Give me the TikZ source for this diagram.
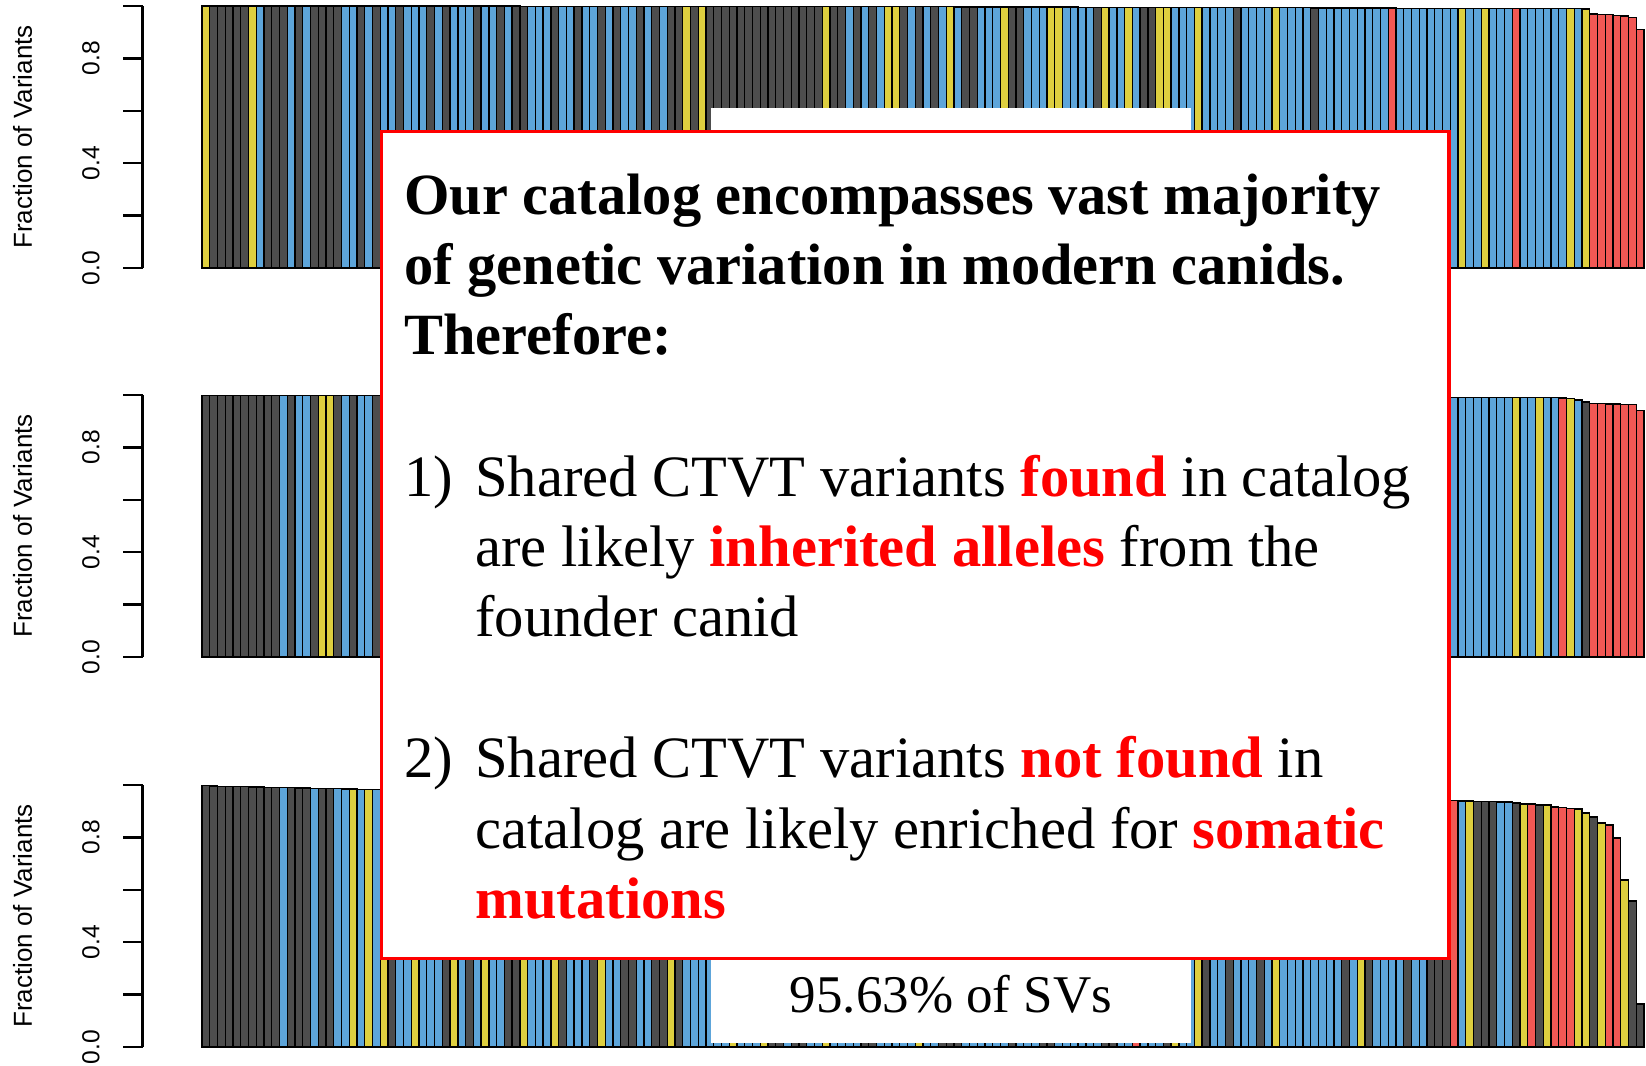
\documentclass[tikz,border=0pt]{standalone}
\usepackage{fontspec}
\setmainfont{Liberation Serif}
\newfontfamily\axisfont{Liberation Sans}

\definecolor{bark}{RGB}{77,77,77}
\definecolor{barb}{RGB}{93,165,218}
\definecolor{bary}{RGB}{222,207,63}
\definecolor{barr}{RGB}{241,88,84}
\definecolor{boxred}{RGB}{255,0,0}

\tikzset{
  barcell/.style={draw=black, line width=0.65pt},
  axisline/.style={draw=black, line width=1.2pt},
  ticklab/.style={font=\axisfont\fontsize{12.3}{14}\selectfont, rotate=90, inner sep=0pt},
  ylab/.style={font=\axisfont\fontsize{13}{15}\selectfont, rotate=90, inner sep=0pt},
  maskbox/.style={fill=white, draw=none},
  notebox/.style={fill=white, draw=boxred, line width=1.75pt},
  bodytext/.style={anchor=base west, inner sep=0pt, font=\fontsize{29.3}{35}\selectfont},
  headtext/.style={bodytext, font=\fontsize{29.2}{35}\selectfont\bfseries},
}
\newcommand\hot[1]{\textcolor{boxred}{\bfseries #1}}

% #1 zero line, #2 px per unit, #3 colour letters, #4 first tail index,
% #5 tail heights, #6 height formula in \j for the bars before the tail
\newcommand\barseries[6]{%
  \foreach \c [count=\j from 0] in {#3} {%
    \ifnum\j<#4\relax
      \pgfmathsetmacro\hh{#6}%
    \else
      \pgfmathsetmacro\hh{{#5}[\j-#4]}%
    \fi
    \filldraw[barcell, fill=bar\c] ({202+\j*7.753}, #1) rectangle ++(7.753, {-\hh*#2});
  }%
}

% #1 zero line, #2 suffix for node names
\newcommand\axisframe[2]{%
  \draw[axisline] (142.5, {#1}) -- (142.5, {#1-262});
  \foreach \v in {0,0.2,0.4,0.6,0.8,1.0}
    \draw[axisline] (123, {#1-\v*262}) -- (142.5, {#1-\v*262});
  \node[ticklab] (tk0#2) at (91, {#1}) {0.0};
  \node[ticklab] (tk4#2) at (91, {#1-0.4*262}) {0.4};
  \node[ticklab] (tk8#2) at (91, {#1-0.8*262}) {0.8};
  \node[ylab] (ylab#2) at (22.5, {#1-131}) {Fraction of Variants};
}

\begin{document}
\begin{tikzpicture}[x=0.5pt, y=-0.5pt]
\useasboundingbox (0,0) rectangle (1646,1066);
\fill[white] (0,0) rectangle (1646,1066);

% ---- panel 1 ----
\axisframe{268}{a}
\barseries{268}{262}{y,k,k,k,k,k,y,b,k,k, k,b,k,b,k,k,k,k,b,b, k,b,k,
 b,b,k,b,b,b,k,b,k,b, b,b,k,b,b,k,b,k,k,b, b,b,k,b,b,k,b,b,k,b, k,b,b,k,b,
 k,b,k,k,y,k,y,k,
 k,k,k,k,k,k,k,k,k,k,k,k,k,k,
 y,k,k,b,k,b,k,b,y,y, k,b,k,b,k,b,y,b,k,k, b,b,b,y,k,k,b,b,b,y, y,b,b,b,b,k,y,b,b,y, b,k,k,y,y,b,b,b,y,b,
 b,b,b,k,b,b,b,b,y,b, b,b,b,k,b,b,b,b,b,b,
 b,b,b,r,b,b,b,b,b,b, b,b,y,b,b,y,b,b,b,r, b,b,b,b,b,b,y,b,y,r, r,r,r,r,r,r}
 {179}{0.969,0.967,0.967,0.964,0.962,0.957,0.911}{1-0.011*(\j/178)^2}

% ---- panel 2 ----
\axisframe{657}{b}
\barseries{657}{262}{k,k,k,k,k,k,k,k,k,k, b,k,b,b,k,y,y,k,b,k, b,b,k,
 b,k,b,b,k,y,b,k,b,k, b,k,b,b,k,y,b,k,b,k, b,k,b,b,k,y,b,k,b,k, b,k,b,b,k,y,b,k,b,k,
 b,k,b,b,k,y,b,k,b,k, b,k,b,b,k,y,b,k,b,k, b,k,b,b,k,y,b,k,b,k, b,k,b,b,k,y,b,k,b,k,
 b,k,b,b,k,y,b,k,b,k, b,k,b,b,k,y,b,k,b,k, b,k,b,b,k,y,b,k,b,k, b,k,b,b,k,y,b,k,b,k,
 b,k,b,b,k,y,b,k,b,k, b,b,k,b,y,b,k,b,
 b,b,b,b,b,b,b,b,y,b, b,y,b,b,r,y,b,k,r,r, r,r,r,r,r}
 {175}{0.989,0.986,0.981,0.973,0.968,0.968,0.966,0.966,0.963,0.963,0.940}{0.998-0.007*\j/174}

% ---- panel 3 ----
\axisframe{1047}{c}
\barseries{1047}{262}{k,k,k,k,k,k,k,k,k,k, b,k,k,k,b,k,k,b,b,y, b,y,b,y,
 k,b,b,y,b,b,b,k,y,b, k,b,y,b,b,k,k,y,b,b, b,y,k,b,b,b,k,y,b,b, k,k,b,b,
 k,k,y,k,b,b,b,b,
 b,b,y,b,b,b,y,k,k,b, k,k,b,b,y,b,b,b,b,k, k,b,b,b,b,b,y,b,b,k, k,k,b,b,b,b,b,b,k,b,
 b,b,k,k,b,b,b,b,b,b, k,k,b,b,r,b,b,b,k,y, b,b,
 y,k,b,b,k,b,b,b,k,b, y,b,b,b,
 b,b,b,b,b,k,b,y,k,b, b,b,b,k,b,b,k,k,k,
 r,b,y,k,k,k,b,b,k,y, r,k,y,r,r,r,y,y,k,y, r,r,y,k,k}
 {161}{0.940,0.939,0.939,0.936,0.936,0.936,0.935,0.935,0.931,0.927,0.927,0.924,0.924,0.916,0.913,0.911,0.908,0.893,0.878,0.855,0.847,0.798,0.637,0.557,0.164}
 {0.997-0.058*(1-(1-\j/162)^2)}

% ---- percentage labels of the panels ----
\path[maskbox] (711,108) rectangle (1191,150);
\path[maskbox] (711,945) rectangle (1191,1043);
\node[anchor=base, inner sep=0pt, font=\fontsize{26.5}{30}\selectfont] (svs) at (951,1012) {95.63\% of SVs};

% ---- note ----
\path[notebox] (381.5,131.5) rectangle (1449,958.5);
\node[headtext] (h1) at (404,214) {Our catalog encompasses vast majority};
\node[headtext] (h2) at (404,284.4) {of genetic variation in modern canids.};
\node[headtext] (h3) at (404,354.8) {Therefore:};
\node[bodytext] (n1) at (404,496) {1)};
\node[bodytext] (p1a) at (475,496) {Shared CTVT variants \hot{found} in catalog};
\node[bodytext] (p1b) at (475,566.4) {are likely \hot{inherited alleles} from the};
\node[bodytext] (p1c) at (475,636.8) {founder canid};
\node[bodytext] (n2) at (404,777.6) {2)};
\node[bodytext] (p2a) at (475,777.6) {Shared CTVT variants \hot{not found} in};
\node[bodytext] (p2b) at (475,848) {catalog are likely enriched for \hot{somatic}};
\node[bodytext] (p2c) at (475,918.4) {\hot{mutations}};
\end{tikzpicture}
\end{document}
